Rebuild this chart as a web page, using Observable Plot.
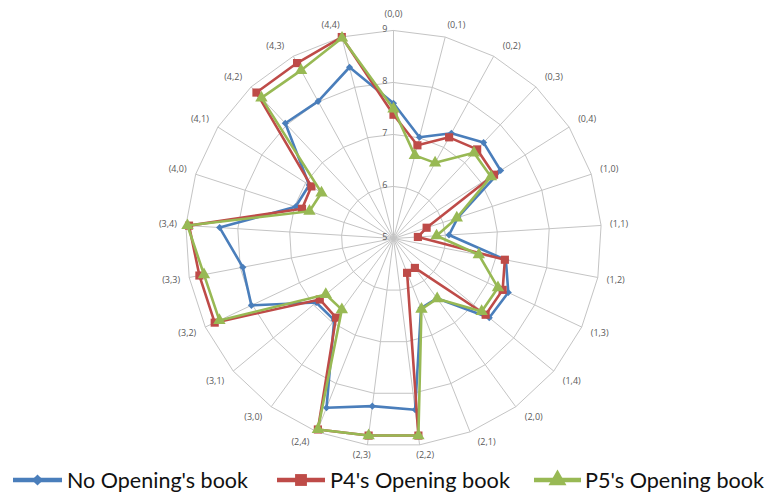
<!DOCTYPE html>
<html><head><meta charset="utf-8">
<script src="https://cdn.jsdelivr.net/npm/d3@7"></script>
<script src="https://cdn.jsdelivr.net/npm/@observablehq/plot@0.6"></script>
<style>
body{margin:0;background:#fff;width:773px;height:498px;overflow:hidden;position:relative}
#chart{position:absolute;left:0;top:0}
#legend{position:absolute;left:0;top:460px;width:773px;height:38px}
</style></head><body><div id="chart"></div><div id="legend"></div>
<script>
const categories = ["(0,0)","(0,1)","(0,2)","(0,3)","(0,4)","(1,0)","(1,1)","(1,2)","(1,3)","(1,4)","(2,0)","(2,1)","(2,2)","(2,3)","(2,4)","(3,0)","(3,1)","(3,2)","(3,3)","(3,4)","(4,0)","(4,1)","(4,2)","(4,3)","(4,4)"];
const noBook = [7.60, 7.01, 7.31, 7.53, 7.44, 6.30, 6.07, 7.20, 7.44, 7.39, 6.42, 6.44, 8.32, 8.25, 8.50, 6.94, 6.93, 8.02, 7.95, 8.35, 6.98, 6.92, 8.04, 8.01, 8.40];
const p4Book = [7.38, 6.85, 7.22, 7.35, 7.29, 5.67, 5.47, 7.18, 7.32, 7.30, 5.70, 5.71, 8.82, 8.82, 8.95, 6.88, 6.84, 8.80, 8.80, 8.94, 6.85, 6.87, 8.85, 8.85, 9.00];
const p5Book = [7.49, 6.65, 6.66, 7.26, 7.22, 6.28, 5.83, 6.67, 7.22, 7.20, 6.43, 6.46, 8.82, 8.82, 8.95, 6.69, 6.69, 8.70, 8.71, 8.97, 6.70, 6.64, 8.71, 8.69, 8.98];
const ticks = [5, 6, 7, 8, 9];
const seriesNames = ["No Opening's book", "P4's Opening book", "P5's Opening book"];
const seriesColors = ["#4A7EBB", "#BE4B48", "#98B954"];
const seriesSymbols = ["diamond2", "square", "triangle"];
const seriesSizes = [3.2, 4.6, 4.6];

const W = 773, H = 460, cx = 393, cy = 238, unit = 52;
const rMin = ticks[0], rMax = ticks[ticks.length - 1];
const n = categories.length;
const ang = i => i * 2 * Math.PI / n;
const clamp = v => Math.max(-1, Math.min(1, v));

const series = [noBook, p4Book, p5Book].map((vals, k) => ({name: seriesNames[k], values: vals}));
const rows = [];
series.forEach((s, k) => s.values.forEach((v, i) => rows.push({k, series: s.name, cat: categories[i], v, a: ang(i)})));

const ring = [];
ticks.slice(1).forEach(t => categories.forEach((c, i) => ring.push({t, a: ang(i)})));
const spokes = categories.map((c, i) => ({c, a: ang(i)}));
const R = rMax - rMin;
// label: ring vertex plus a box offset (pixels converted to units)
const labX = d => R * Math.sin(d.a) + 18 * clamp(2.5 * Math.sin(d.a)) / unit;
const labY = d => R * Math.cos(d.a) + (10 * clamp(1.5 * Math.cos(d.a)) + 6 * Math.pow(Math.max(Math.cos(d.a), 0), 40)) / unit;

const marks = [
  Plot.line(ring, {x: d => (d.t - rMin) * Math.sin(d.a), y: d => (d.t - rMin) * Math.cos(d.a), z: "t", curve: "linear-closed", stroke: "#c4c4c4", strokeWidth: 1}),
  Plot.link(spokes, {x1: 0, y1: 0, x2: d => R * Math.sin(d.a), y2: d => R * Math.cos(d.a), stroke: "#c4c4c4", strokeWidth: 1}),
  Plot.text(ticks, {x: 0, y: t => t - rMin, text: t => String(t), textAnchor: "end", dx: -6, dy: -1, fontSize: 9, fill: "#595959"}),
  Plot.text(spokes, {x: labX, y: labY, text: "c", fontSize: 9, fill: "#595959"})
];
series.forEach((s, k) => {
  const data = rows.filter(r => r.k === k);
  marks.push(Plot.line(data, {x: d => (d.v - rMin) * Math.sin(d.a), y: d => (d.v - rMin) * Math.cos(d.a), curve: "linear-closed", stroke: seriesColors[k], strokeWidth: 2.6, strokeLinejoin: "round"}));
  marks.push(Plot.dot(data, {x: d => (d.v - rMin) * Math.sin(d.a), y: d => (d.v - rMin) * Math.cos(d.a), symbol: seriesSymbols[k], r: seriesSizes[k], fill: seriesColors[k], stroke: "none"}));
});

const chart = Plot.plot({
  width: W, height: H, margin: 0,
  x: {domain: [-cx / unit, (W - cx) / unit], axis: null},
  y: {domain: [-(H - cy) / unit, cy / unit], axis: null},
  style: {fontFamily: "'Open Sans', sans-serif", background: "transparent"},
  marks
});
document.getElementById("chart").appendChild(chart);

// legend
const legLine = [[13, 62], [277, 325], [534, 581]];
const legText = [[67, 181], [330, 180], [585, 179]];
const lg = d3.create("svg").attr("width", 773).attr("height", 38).style("display", "block");
series.forEach((s, k) => {
  const [x1, x2] = legLine[k];
  lg.append("line").attr("x1", x1).attr("x2", x2).attr("y1", 20).attr("y2", 20)
    .attr("stroke", seriesColors[k]).attr("stroke-width", 4.5);
  const sym = {diamond2: d3.symbolDiamond2, square: d3.symbolSquare, triangle: d3.symbolTriangle}[seriesSymbols[k]];
  lg.append("path").attr("d", d3.symbol(sym, k === 0 ? 80 : 140)())
    .attr("transform", `translate(${(x1 + x2) / 2},20)`).attr("fill", seriesColors[k]);
  lg.append("text").attr("x", legText[k][0]).attr("y", 27.5)
    .attr("textLength", legText[k][1]).attr("lengthAdjust", "spacingAndGlyphs")
    .attr("font-family", "Lato, 'Open Sans', sans-serif").attr("font-size", 22).attr("fill", "#111")
    .text(s.name);
});
document.getElementById("legend").appendChild(lg.node());
</script></body></html>
